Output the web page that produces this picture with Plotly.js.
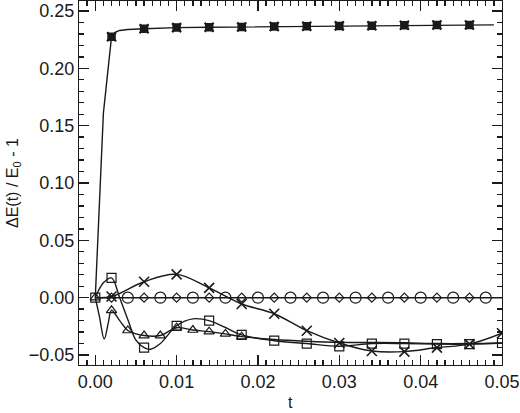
<!DOCTYPE html>
<html>
<head>
<meta charset="utf-8">
<script src="https://cdn.plot.ly/plotly-3.0.1.min.js"></script>
<style>
html, body { margin: 0; padding: 0; background: #fff; }
#chart { width: 520px; height: 413px; }
</style>
</head>
<body>
<div id="chart"></div>
<script>
// top curve (asterisks)
const starT = [0, 0.0001, 0.001, 0.002, 0.0025, 0.003, 0.004, 0.006, 0.010, 0.014, 0.018, 0.022, 0.026, 0.030, 0.034, 0.038, 0.042, 0.046, 0.049];
const starV = [0, 0.017, 0.161, 0.2276, 0.2315, 0.233, 0.2338, 0.2345, 0.2355, 0.2358, 0.236, 0.2364, 0.2367, 0.237, 0.2372, 0.2375, 0.2377, 0.2378, 0.2379];
const starMarks = [0.002, 0.006, 0.010, 0.014, 0.018, 0.022, 0.026, 0.030, 0.034, 0.038, 0.042, 0.046];

// crosses
const crossT = [0, 0.002, 0.006, 0.010, 0.014, 0.018, 0.022, 0.026, 0.030, 0.034, 0.038, 0.042, 0.046, 0.050];
const crossV = [0, 0.001, 0.0139, 0.0203, 0.0085, -0.0055, -0.0140, -0.0288, -0.0395, -0.0465, -0.047, -0.0435, -0.0405, -0.031];
const crossMarks = [0.002, 0.006, 0.010, 0.014, 0.018, 0.022, 0.026, 0.030, 0.034, 0.038, 0.042, 0.046, 0.050];

// squares
const squareT = [0, 0.001, 0.002, 0.003, 0.004, 0.005, 0.006, 0.0068, 0.008, 0.010, 0.012, 0.014, 0.016, 0.018, 0.022, 0.026, 0.030, 0.034, 0.038, 0.042, 0.046, 0.050];
const squareV = [0, 0.013, 0.0172, 0.000, -0.019, -0.037, -0.0436, -0.045, -0.040, -0.0245, -0.0185, -0.020, -0.026, -0.0325, -0.0375, -0.040, -0.0424, -0.040, -0.040, -0.0405, -0.0405, -0.0395];
const squareMarks = [0, 0.002, 0.006, 0.010, 0.014, 0.018, 0.022, 0.026, 0.030, 0.034, 0.038, 0.042, 0.046, 0.050];

// triangles
const triT = [0, 0.0005, 0.0011, 0.0016, 0.002, 0.003, 0.004, 0.006, 0.008, 0.010, 0.012, 0.014, 0.016, 0.018, 0.022, 0.026, 0.030, 0.034, 0.038, 0.042, 0.046, 0.050];
const triV = [0, -0.016, -0.036, -0.022, -0.011, -0.020, -0.0286, -0.033, -0.033, -0.0262, -0.0282, -0.0296, -0.0316, -0.034, -0.0365, -0.038, -0.039, -0.039, -0.0392, -0.040, -0.040, -0.0395];
const triMarks = [0, 0.002, 0.004, 0.006, 0.008, 0.010, 0.012, 0.014, 0.016, 0.018];

// flat zero curve (circles + small diamonds)
const zeroT = [0, 0.002, 0.004, 0.006, 0.008, 0.010, 0.012, 0.014, 0.016, 0.018, 0.020, 0.022, 0.024, 0.026, 0.028, 0.030, 0.032, 0.034, 0.036, 0.038, 0.040, 0.042, 0.044, 0.046, 0.048, 0.050];
const zeroV = [0, 0, 0, 0, 0, 0, 0, 0, 0, 0, 0, 0, 0, 0, 0, 0, 0, 0, 0, 0, 0, 0, 0, 0, 0, 0];
const circleMarks = [0.004, 0.008, 0.012, 0.016, 0.020, 0.024, 0.028, 0.032, 0.036, 0.040, 0.044, 0.048];
const diamondMarks = [0.002, 0.006, 0.010, 0.014, 0.018, 0.022, 0.026, 0.030, 0.034, 0.038, 0.042, 0.046];

// tick steps and ranges
const xMajor = 0.01, xMinor = 0.001;
const yMajor = 0.05, yMinor = 0.01;
const xRange = [-0.002, 0.05];
const yRange = [-0.0587, 0.2587];

const xTitle = 't';
const yTitle = 'ΔE(t) / E<sub>0</sub> - 1';

const ink = '#1a1a1a';

function pick(t, v, marks) {
    const xs = [], ys = [];
    t.forEach(function (tt, i) {
        if (marks.some(function (m) { return Math.abs(m - tt) < 1e-7; })) {
            xs.push(tt);
            ys.push(v[i]);
        }
    });
    return {x: xs, y: ys};
}

function lineTrace(t, v, shape) {
    return {
        type: 'scatter', mode: 'lines', x: t, y: v, hoverinfo: 'skip',
        line: {color: ink, width: 1.4, shape: shape, smoothing: 1}
    };
}

function markTrace(t, v, marks, symbol, size, lw) {
    const p = pick(t, v, marks);
    return {
        type: 'scatter', mode: 'markers', x: p.x, y: p.y, hoverinfo: 'skip',
        marker: {symbol: symbol, size: size, color: ink, line: {color: ink, width: lw}}
    };
}

const traces = [
    lineTrace(zeroT, zeroV, 'linear'),
    markTrace(zeroT, zeroV, circleMarks, 'circle-open', 11, 1.2),
    markTrace(zeroT, zeroV, diamondMarks, 'diamond-open', 7, 1.2),
    lineTrace(triT, triV, 'spline'),
    markTrace(triT, triV, triMarks, 'triangle-up-open', 9, 1.2),
    lineTrace(squareT, squareV, 'spline'),
    markTrace(squareT, squareV, squareMarks, 'square-open', 9, 1.2),
    lineTrace(crossT, crossV, 'spline'),
    markTrace(crossT, crossV, crossMarks, 'x-thin-open', 10, 1.6),
    lineTrace(starT, starV, 'linear'),
    markTrace(starT, starV, starMarks, 'square-x', 7, 1.5),
    markTrace(starT, starV, starMarks, 'x-thin-open', 9, 2.2),
    // invisible carrier for the minor-tick overlay axes
    {type: 'scatter', mode: 'lines', x: zeroT, y: zeroV, xaxis: 'x2', yaxis: 'y2',
        hoverinfo: 'skip', opacity: 0}
];

const fontFamily = 'Liberation Sans';

const axisCommon = {
    showgrid: false,
    zeroline: false,
    showline: true,
    linecolor: ink,
    linewidth: 1.2,
    mirror: 'allticks',
    ticks: 'inside',
    ticklen: 10,
    tickwidth: 1.2,
    tickcolor: ink,
    tickformat: '.2f',
    tickfont: {family: fontFamily, size: 18, color: ink}
};

// overlay axes that only carry the short ticks
const minorAxis = {
    showline: true,
    linecolor: ink,
    mirror: 'ticks',
    ticks: 'inside',
    ticklen: 5,
    tickwidth: 1.3,
    tickcolor: ink,
    showticklabels: false,
    showgrid: false,
    zeroline: false
};

const layout = {
    width: 520,
    height: 413,
    margin: {l: 79, r: 18, t: 1, b: 48},
    paper_bgcolor: '#fff',
    plot_bgcolor: '#fff',
    showlegend: false,
    xaxis: Object.assign({}, axisCommon, {
        range: xRange,
        dtick: xMajor,
        minor: {ticks: 'inside', ticklen: 5, tickwidth: 1.3, tickcolor: ink, dtick: xMinor}
    }),
    yaxis: Object.assign({}, axisCommon, {
        range: yRange,
        dtick: yMajor,
        minor: {ticks: 'inside', ticklen: 5, tickwidth: 1.3, tickcolor: ink, dtick: yMinor}
    }),
    xaxis2: Object.assign({}, minorAxis, {range: xRange, dtick: xMinor, overlaying: 'x', anchor: 'y2', side: 'bottom'}),
    yaxis2: Object.assign({}, minorAxis, {range: yRange, dtick: yMinor, overlaying: 'y', anchor: 'x2', side: 'left'}),
    annotations: [
        {text: xTitle, xref: 'paper', yref: 'paper', x: 0.5, y: -0.104, xanchor: 'center', yanchor: 'middle',
            showarrow: false, font: {family: fontFamily, size: 16, color: ink}},
        {text: yTitle, xref: 'paper', yref: 'paper', x: -0.156, y: 0.5, xanchor: 'center', yanchor: 'middle',
            textangle: -90, showarrow: false, font: {family: fontFamily, size: 16, color: ink}}
    ]
};

Plotly.newPlot('chart', traces, layout, {staticPlot: true});
</script>
</body>
</html>
